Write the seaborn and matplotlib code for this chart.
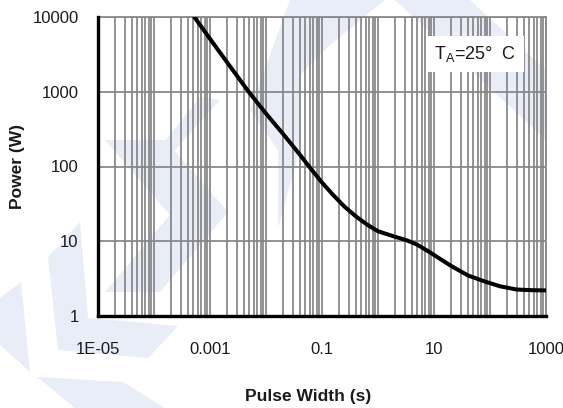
import matplotlib
matplotlib.use("Agg")
import matplotlib.pyplot as plt
from matplotlib.patches import Polygon
from matplotlib.ticker import LogLocator, NullFormatter, FixedLocator, FixedFormatter
import seaborn as sns
import pandas as pd

# Peak pulse power derating curve
pulse_width = [5.25e-4, 1e-3, 2e-3, 4.9e-3, 0.01, 0.02, 0.04, 0.06, 0.1, 0.16,
               0.25, 0.4, 0.63, 1.0, 2.0, 3.2, 5.0, 8.0, 12, 20, 40, 80, 150,
               300, 600, 1000]
power = [10000, 5100, 2500, 1000, 510, 275, 145, 98, 61, 41.2,
         29.2, 21.6, 16.8, 13.6, 11.5, 10.35, 9.0, 7.3, 6.0, 4.7, 3.5, 2.9, 2.5,
         2.26, 2.21, 2.2]

x_tick_values = [1e-5, 1e-3, 1e-1, 10, 1000]
x_tick_labels = ["1E-05", "0.001", "0.1", "10", "1000"]
y_tick_values = [1, 10, 100, 1000, 10000]
y_tick_labels = ["1", "10", "100", "1000", "10000"]
annotation = r"T$_\mathregular{A}$=25°  C"

sns.set_theme(style="white")
plt.rcParams["font.family"] = ["Liberation Sans", "DejaVu Sans"]
plt.rcParams["mathtext.fontset"] = "custom"
plt.rcParams["mathtext.rm"] = "Liberation Sans"

W, H = 563, 408
fig = plt.figure(figsize=(W / 100, H / 100), dpi=100, facecolor="white")

# pale background logo shapes (pixel coords, origin top-left)
logo_color = "#e8edf7"
shapes = [
    [(290, 0), (385, 0), (330, 45), (300, 75), (300, 150), (278, 228), (278, 150), (250, 110)],
    [(395, 0), (470, 0), (546, 70), (546, 140)],
    [(105, 140), (165, 140), (228, 212), (160, 292), (105, 292), (170, 215)],
    [(150, 160), (200, 97), (220, 100), (175, 150)],
    [(48, 257), (80, 222), (88, 318), (178, 326), (148, 358), (58, 350)],
    [(0, 298), (21, 282), (30, 372), (0, 345)],
    [(37, 377), (123, 382), (165, 408), (75, 408)],
]
for pts in shapes:
    poly = Polygon([(x / W, 1 - y / H) for x, y in pts], closed=True,
                   transform=fig.transFigure, facecolor=logo_color,
                   edgecolor="none", zorder=-5)
    fig.add_artist(poly)

left, right, top, bottom = 98 / W, 546 / W, 17 / H, 316 / H
ax = fig.add_axes([left, 1 - bottom, right - left, bottom - top])
ax.set_facecolor("none")

df = pd.DataFrame({"Pulse Width (s)": pulse_width, "Power (W)": power})
sns.lineplot(data=df, x="Pulse Width (s)", y="Power (W)", ax=ax,
             color="black", linewidth=2.9, zorder=3)
for ln in ax.get_lines():
    ln.set_solid_joinstyle("round")
    ln.set_solid_capstyle("round")

ax.set_xscale("log")
ax.set_yscale("log")
ax.set_xlim(1e-5, 1000)
ax.set_ylim(1, 10000)

# x: every decade is a major tick, only alternate decades are labeled
decades = [10.0 ** k for k in range(-5, 4)]
ax.xaxis.set_major_locator(FixedLocator(decades))
ax.xaxis.set_major_formatter(FixedFormatter(
    [x_tick_labels[x_tick_values.index(d)] if d in x_tick_values else "" for d in decades]))
ax.xaxis.set_minor_locator(LogLocator(base=10, subs=range(2, 10), numticks=50))
ax.xaxis.set_minor_formatter(NullFormatter())
ax.yaxis.set_major_locator(FixedLocator(y_tick_values))
ax.yaxis.set_major_formatter(FixedFormatter(y_tick_labels))
ax.yaxis.set_minor_locator(FixedLocator([]))

ax.tick_params(axis="both", which="both", length=0, labelsize=12, colors="#1a1a1a")
ax.tick_params(axis="x", pad=19)
ax.tick_params(axis="y", pad=14)

grid_kw = dict(color="#858585", linewidth=1.25)
ax.grid(True, axis="x", which="both", **grid_kw)
ax.grid(True, axis="y", which="major", **grid_kw)
ax.set_axisbelow(True)

for side in ("top", "right"):
    ax.spines[side].set_color("#858585")
    ax.spines[side].set_linewidth(1.25)
for side in ("left", "bottom"):
    ax.spines[side].set_color("black")
    ax.spines[side].set_linewidth(2.4)
    ax.spines[side].set_zorder(4)

ax.set_xlabel("Pulse Width (s)", fontsize=12.5, fontweight="bold", color="#1a1a1a")
ax.set_ylabel("Power (W)", fontsize=12.5, fontweight="bold", color="#1a1a1a")
ax.xaxis.set_label_coords((308 - 98) / (546 - 98), -(397 - 316) / (316 - 17), transform=ax.transAxes)
ax.yaxis.set_label_coords(-(98 - 18) / (546 - 98), 0.5, transform=ax.transAxes)
ax.xaxis.label.set_va("center")
ax.yaxis.label.set_va("center")

ax.text(434 / W, 1 - 54 / H, annotation, transform=fig.transFigure,
        fontsize=13, color="#1a1a1a", ha="left", va="center", zorder=6,
        bbox=dict(boxstyle="square,pad=0.45", facecolor="white", edgecolor="none"))

fig.savefig("out.png", dpi=100, facecolor="white")
